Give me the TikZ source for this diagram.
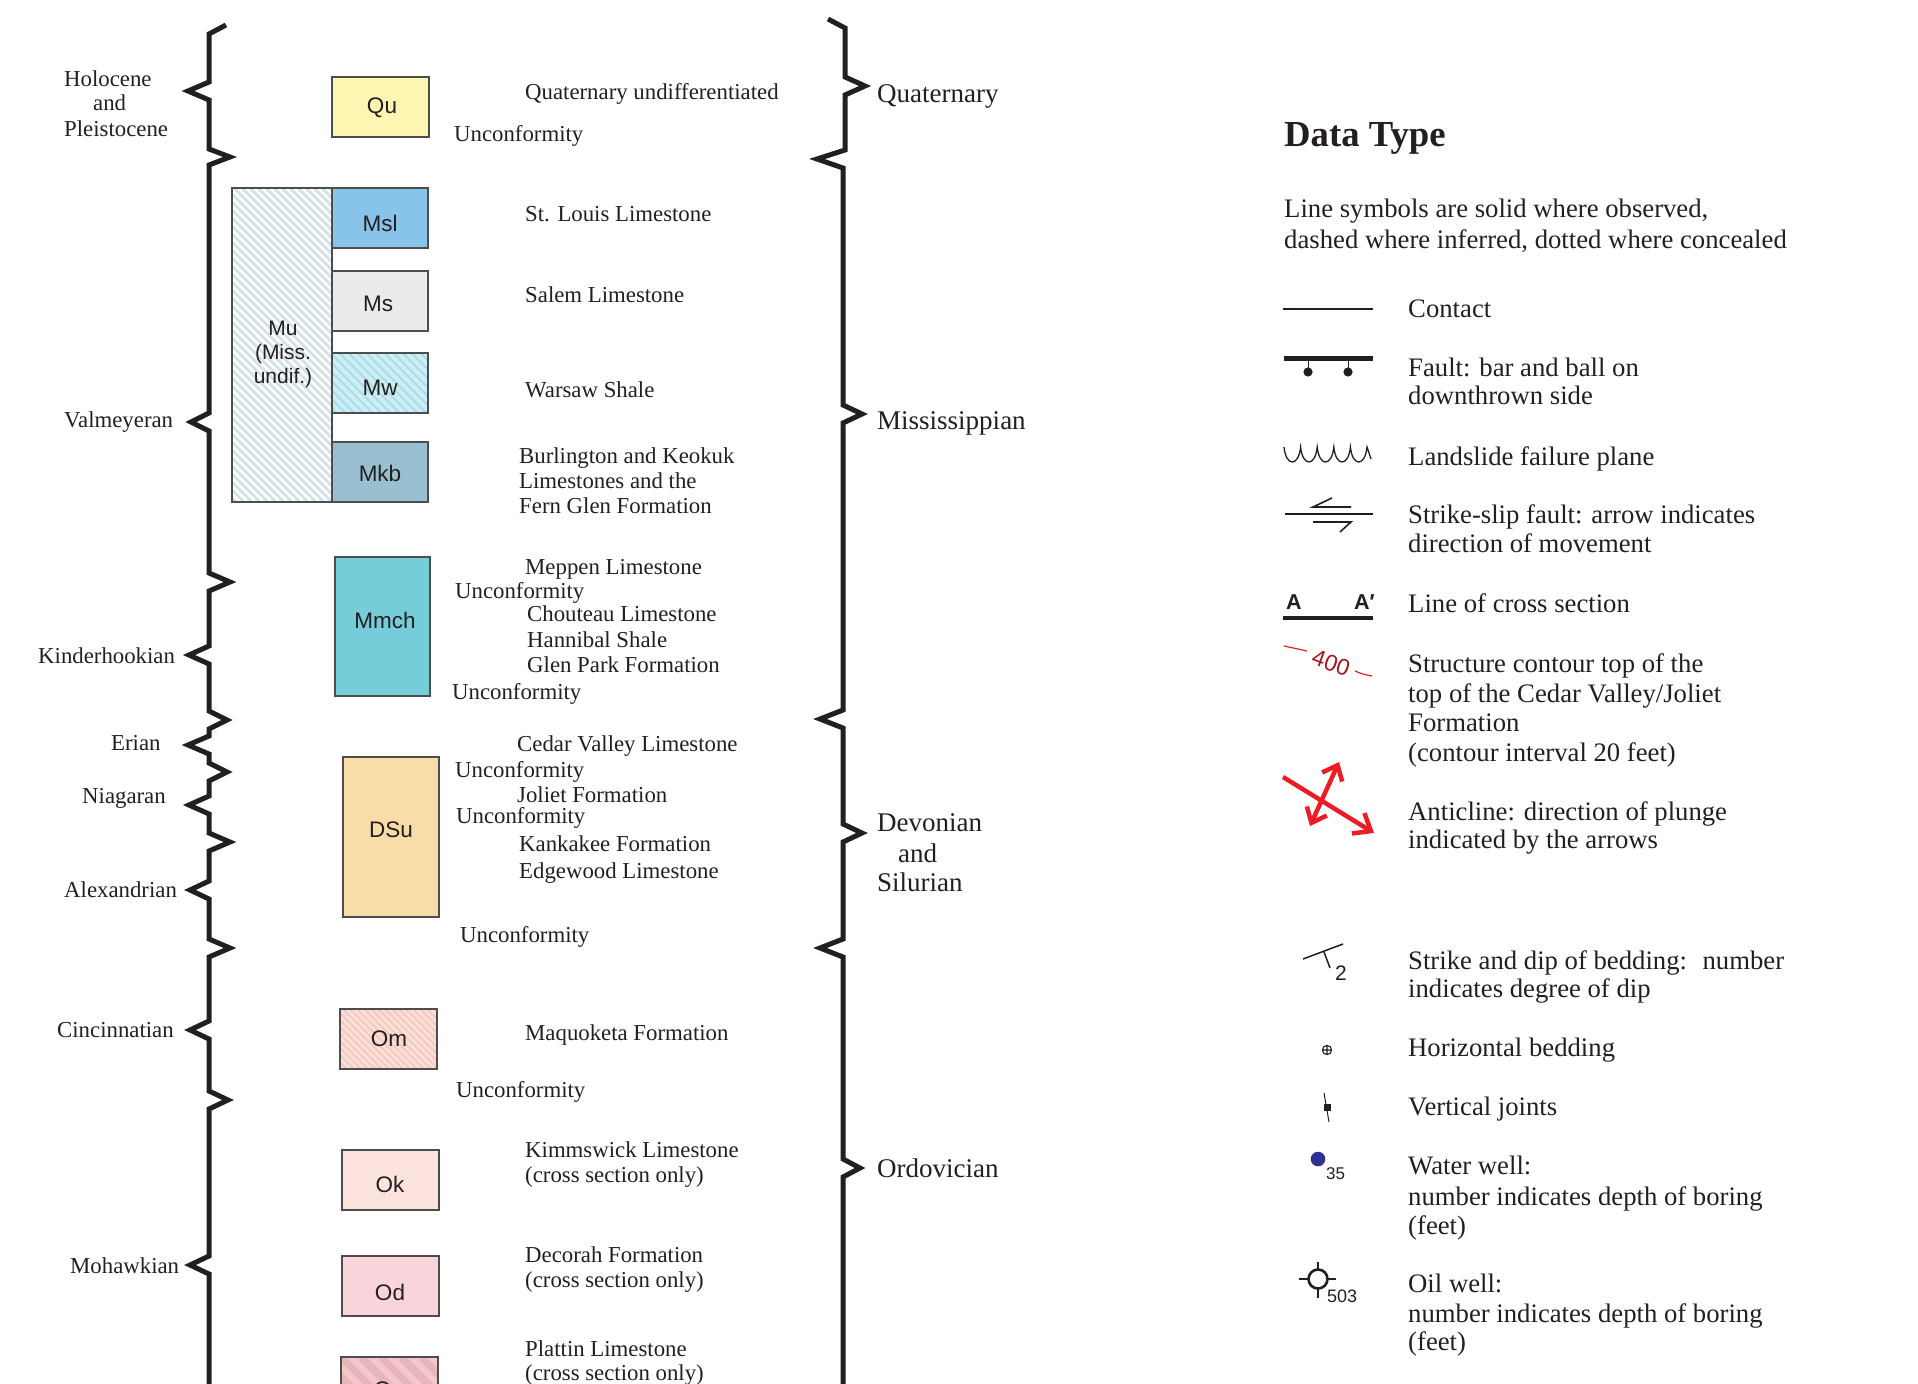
\documentclass[tikz,border=0pt]{standalone}
\usepackage{fontspec}
\setmainfont{Liberation Serif}
\newfontfamily\sansf{Liberation Sans}
\usetikzlibrary{arrows.meta}
\definecolor{ink}{HTML}{231F20}
\definecolor{boxline}{HTML}{4D4D4D}
\definecolor{cqu}{HTML}{FDF6B2}
\definecolor{cmsl}{HTML}{88C3E9}
\definecolor{cms}{HTML}{EBEBEB}
\definecolor{cmwbg}{HTML}{A9DDE9}
\definecolor{cmwst}{HTML}{CFEEF4}
\definecolor{cmkb}{HTML}{99C0D1}
\definecolor{cmubg}{HTML}{D3E1E8}
\definecolor{cmmch}{HTML}{74CDD9}
\definecolor{cdsu}{HTML}{F8DDA8}
\definecolor{combg}{HTML}{FBE0D8}
\definecolor{comst}{HTML}{F4CAC1}
\definecolor{cok}{HTML}{FDE3DE}
\definecolor{cod}{HTML}{F9D4DA}
\definecolor{copbg}{HTML}{F4C9CE}
\definecolor{copst}{HTML}{E8B5BC}
\definecolor{sred}{HTML}{ED1C24}
\definecolor{dred}{HTML}{A3161C}
\definecolor{wblue}{HTML}{2E3192}
\newcommand{\stripefill}[7]{%
  \begin{scope}
    \clip (#1,#2) rectangle (#3,#4);
    \pgfmathtruncatemacro{\nst}{((#3-#1)+(#4-#2))/#6+1}
    \foreach \k in {0,...,\nst}{
      \draw[#5, line width=#7] ({#1-(#4-#2)+\k*#6},#2) -- ++({#4-#2},{#4-#2});
    }
  \end{scope}}
\tikzset{
  lt/.style={anchor=base west, inner sep=0, text=ink, font=\fontsize{22.8}{26}\selectfont},
  pl/.style={anchor=base west, inner sep=0, text=ink, font=\fontsize{27}{30}\selectfont},
  lg/.style={anchor=base west, inner sep=0, text=ink, font=\fontsize{26.7}{30}\selectfont},
  unitbox/.style={draw=boxline, line width=1.3, inner sep=0, outer sep=0},
  blab/.style={inner sep=0, text=ink, font=\sansf\fontsize{22.5}{24}\selectfont},
  brace/.style={draw=ink, line width=5, line join=miter, miter limit=10},
  sym/.style={draw=ink, line width=1.3},
}
\begin{document}
\begin{tikzpicture}[x=1pt,y=-1pt]
\useasboundingbox (0,0) rectangle (1918,1383);
\clip (0,0) rectangle (1918,1383);

% ---------- left brace (epochs) ----------
\draw[brace] (226,25) -- (209,34) -- (209,82) -- (188,91) -- (209,100) -- (209,149) -- (230,157) -- (209,165)
  -- (209,413) -- (191,422) -- (209,431) -- (209,573) -- (230,582) -- (209,591) -- (209,646) -- (189,655) -- (209,664)
  -- (209,711) -- (227,720) -- (209,729) -- (209,736) -- (188,745) -- (209,754) -- (209,763) -- (227,772) -- (209,781)
  -- (209,796) -- (189,805) -- (209,814) -- (209,833) -- (230,842) -- (209,851) -- (209,881) -- (190,890) -- (209,899)
  -- (209,939) -- (230,948) -- (209,957) -- (209,1021) -- (190,1030) -- (209,1039) -- (209,1091) -- (228,1100) -- (209,1109)
  -- (209,1256) -- (190,1265) -- (209,1274) -- (209,1395);

% ---------- right brace (periods) ----------
\draw[brace] (828,19) -- (845,28) -- (845,77) -- (865,86) -- (845,95) -- (845,150) -- (817,159) -- (843,168)
  -- (843,405) -- (862,414) -- (843,423) -- (843,710) -- (820,719) -- (843,728) -- (843,824) -- (862,833) -- (843,842)
  -- (843,939) -- (820,948) -- (843,957) -- (843,1159) -- (860,1168) -- (843,1177) -- (843,1395);

% ---------- epoch labels ----------
\node[lt] (hol) at (64,87) {Holocene};
\node[lt] (holand) at (93,111) {and};
\node[lt] (ple) at (64,137) {Pleistocene};
\node[lt] (val) at (64,427) {Valmeyeran};
\node[lt] (kin) at (38,663) {Kinderhookian};
\node[lt] (eri) at (111,750) {Erian};
\node[lt] (nia) at (82,803) {Niagaran};
\node[lt] (ale) at (64,897) {Alexandrian};
\node[lt] (cin) at (57,1037) {Cincinnatian};
\node[lt] (moh) at (70,1273) {Mohawkian};

% ---------- period labels ----------
\node[pl] (pq) at (877,103) {Quaternary};
\node[pl] (pm) at (877,429) {Mississippian};
\node[pl] (pd) at (877,831) {Devonian};
\node[pl] (pand) at (898,862) {and};
\node[pl] (ps) at (877,891) {Silurian};
\node[pl] (po) at (877,1177) {Ordovician};

% ---------- unit boxes ----------
\node[unitbox, fill=cqu, minimum width=97, minimum height=60] (Qu) at (380.5,107) {};
\node[unitbox, fill=cmubg, minimum width=100, minimum height=314] (Mu) at (282,345) {};
\stripefill{232}{188}{332}{502}{white}{8}{2.6}
\draw[boxline, line width=1.3] (Mu.north west) rectangle (Mu.south east);
\node[unitbox, fill=cmsl, minimum width=96, minimum height=60] (Msl) at (380,218) {};
\node[unitbox, fill=cms, minimum width=96, minimum height=60] (Ms) at (380,301) {};
\node[unitbox, fill=cmwbg, minimum width=96, minimum height=60] (Mw) at (380,383) {};
\stripefill{332}{353}{428}{413}{cmwst}{9}{4}
\draw[boxline, line width=1.3] (Mw.north west) rectangle (Mw.south east);
\node[unitbox, fill=cmkb, minimum width=96, minimum height=60] (Mkb) at (380,472) {};
\node[unitbox, fill=cmmch, minimum width=95, minimum height=139] (Mmch) at (382.5,626.5) {};
\node[unitbox, fill=cdsu, minimum width=96, minimum height=160] (DSu) at (391,837) {};
\node[unitbox, fill=combg, minimum width=97, minimum height=60] (Om) at (388.5,1039) {};
\stripefill{340}{1009}{437}{1069}{comst}{7}{2}
\draw[boxline, line width=1.3] (Om.north west) rectangle (Om.south east);
\node[unitbox, fill=cok, minimum width=97, minimum height=60] (Ok) at (390.5,1180) {};
\node[unitbox, fill=cod, minimum width=97, minimum height=60] (Od) at (390.5,1286) {};
\node[unitbox, fill=copbg, minimum width=97, minimum height=60] (Op) at (389.5,1387) {};
\stripefill{341}{1357}{438}{1417}{copst}{20}{8}
\draw[boxline, line width=1.3] (Op.north west) rectangle (Op.south east);

% ---------- unit labels ----------
\node[blab] (lQu) at (382,108) {Qu};
\node[blab, align=center, font=\sansf\fontsize{21}{24}\selectfont] (lMu) at (283,354) {Mu\\(Miss.\\undif.)};
\node[blab] (lMsl) at (380,223) {Msl};
\node[blab] (lMs) at (378,304) {Ms};
\node[blab] (lMw) at (380,388) {Mw};
\node[blab] (lMkb) at (380,473) {Mkb};
\node[blab] (lMmch) at (385,620) {Mmch};
\node[blab] (lDSu) at (391,830) {DSu};
\node[blab] (lOm) at (389,1039) {Om};
\node[blab] (lOk) at (390,1184) {Ok};
\node[blab] (lOd) at (390,1292) {Od};
\node[blab] (lOp) at (389,1392) {Op};

% ---------- unit descriptions ----------
\node[lt] (d1) at (525,100) {Quaternary undifferentiated};
\node[lt] (u1) at (454,142) {Unconformity};
\node[lt] (d2) at (525,222) {St. Louis Limestone};
\node[lt] (d3) at (525,302) {Salem Limestone};
\node[lt] (d4) at (525,397) {Warsaw Shale};
\node[lt] (d5a) at (519,463) {Burlington and Keokuk};
\node[lt] (d5b) at (519,488) {Limestones and the};
\node[lt] (d5c) at (519,513) {Fern Glen Formation};
\node[lt] (d6) at (525,574) {Meppen Limestone};
\node[lt] (u2) at (455,598) {Unconformity};
\node[lt] (d7) at (527,621) {Chouteau Limestone};
\node[lt] (d8) at (527,647) {Hannibal Shale};
\node[lt] (d9) at (527,672) {Glen Park Formation};
\node[lt] (u3) at (452,699) {Unconformity};
\node[lt] (d10) at (517,751) {Cedar Valley Limestone};
\node[lt] (u4) at (455,777) {Unconformity};
\node[lt] (d11) at (517,802) {Joliet Formation};
\node[lt] (u5) at (456,823) {Unconformity};
\node[lt] (d12) at (519,851) {Kankakee Formation};
\node[lt] (d13) at (519,878) {Edgewood Limestone};
\node[lt] (u6) at (460,942) {Unconformity};
\node[lt] (d14) at (525,1040) {Maquoketa Formation};
\node[lt] (u7) at (456,1097) {Unconformity};
\node[lt] (d15a) at (525,1157) {Kimmswick Limestone};
\node[lt] (d15b) at (525,1182) {(cross section only)};
\node[lt] (d16a) at (525,1262) {Decorah Formation};
\node[lt] (d16b) at (525,1287) {(cross section only)};
\node[lt] (d17a) at (525,1356) {Plattin Limestone};
\node[lt] (d17b) at (525,1380) {(cross section only)};

% ---------- legend ----------
\node[lg, font=\bfseries\fontsize{36.7}{40}\selectfont] (dt) at (1284,147) {Data Type};
\node[lg] (g0a) at (1284,218) {Line symbols are solid where observed,};
\node[lg] (g0b) at (1284,248) {dashed where inferred, dotted where concealed};

% contact
\coordinate (c1) at (1283,309); \coordinate (c2) at (1373,309);
\draw[sym, line width=1.2] (c1) -- (c2);
\node[lg] (g1) at (1408,317) {Contact};

% fault
\coordinate (f1) at (1284,358); \coordinate (f2) at (1373,358);
\draw[draw=ink, line width=5] (f1) -- (f2);
\draw[sym, line width=1] (1308,358) -- (1308,372) (1348,358) -- (1348,372);
\fill[ink] (1308,372) circle (4.6) (1348,372) circle (4.6);
\node[lg] (g2a) at (1408,376) {Fault: bar and ball on};
\node[lg] (g2b) at (1408,404) {downthrown side};

% landslide
\draw[sym, line width=1.3] (1284,447)
  \foreach \i in {0,...,4}{ .. controls ({1284+\i*16.6+2},467) and ({1284+\i*16.6+14.6},467) .. ({1284+(\i+1)*16.6},447) }
  -- (1371,459);
\node[lg] (g3) at (1408,465) {Landslide failure plane};

% strike-slip
\draw[sym, line width=1.8] (1285,514) -- (1373,514);
\draw[sym, line width=1.6] (1351,507) -- (1313,507) -- (1332,498);
\draw[sym, line width=1.6] (1313,522) -- (1351,522) -- (1340,532);
\node[lg] (g4a) at (1408,523) {Strike-slip fault: arrow indicates};
\node[lg] (g4b) at (1408,552) {direction of movement};

% cross section
\node[anchor=base west, inner sep=0, text=ink, font=\sansf\bfseries\fontsize{21.5}{24}\selectfont] (sa) at (1286,609) {A};
\node[anchor=base west, inner sep=0, text=ink, font=\sansf\bfseries\fontsize{21.5}{24}\selectfont] (sb) at (1354,609) {A′};
\draw[draw=ink, line width=4] (1283,618) -- (1373,618);
\node[lg] (g5) at (1408,612) {Line of cross section};

% structure contour
\draw[sred, line width=1.2] (1284,646) -- (1307,651);
\draw[sred, line width=1.2] (1355,671) .. controls (1362,674) .. (1372,676);
\node[inner sep=0, rotate=-20, text=dred, font=\sansf\fontsize{23}{24}\selectfont] (c400) at (1331,663) {400};
\node[lg] (g6a) at (1408,672) {Structure contour top of the};
\node[lg] (g6b) at (1408,702) {top of the Cedar Valley/Joliet};
\node[lg] (g6c) at (1408,731) {Formation};
\node[lg] (g6d) at (1408,761) {(contour interval 20 feet)};

% anticline
\draw[sred, line width=4.5, -{Straight Barb[length=15, width=24]}] (1283,777) -- (1374,833);
\draw[sred, line width=4.5, {Straight Barb[length=13, width=22]}-{Straight Barb[length=13, width=22]}] (1310,826) -- (1339,762);
\node[lg] (g7a) at (1408,820) {Anticline: direction of plunge};
\node[lg] (g7b) at (1408,848) {indicated by the arrows};

% strike and dip
\draw[sym, line width=1.5] (1303,959) -- (1343,944);
\draw[sym, line width=1.5] (1324,952) -- (1330,968);
\node[anchor=base west, inner sep=0, text=ink, font=\sansf\fontsize{21}{24}\selectfont] (n2) at (1335,980) {2};
\node[lg] (g8a) at (1408,969) {Strike and dip of bedding:~ number};
\node[lg] (g8b) at (1408,997) {indicates degree of dip};

% horizontal bedding
\draw[sym, line width=1.1] (1327,1050) circle (4.6) (1322.4,1050) -- (1331.6,1050) (1327,1045.4) -- (1327,1054.6);
\node[lg] (g9) at (1408,1056) {Horizontal bedding};

% vertical joints
\draw[sym, line width=1] (1324,1093) -- (1329,1122);
\fill[ink] (1323.5,1103.5) rectangle (1330.5,1110.5);
\node[lg] (g10) at (1408,1115) {Vertical joints};

% water well
\fill[wblue] (1318,1159) circle (7.3);
\node[anchor=base west, inner sep=0, text=ink, font=\sansf\fontsize{17}{20}\selectfont] (n35) at (1326,1179) {35};
\node[lg] (g11a) at (1408,1174) {Water well:};
\node[lg] (g11b) at (1408,1205) {number indicates depth of boring};
\node[lg] (g11c) at (1408,1234) {(feet)};

% oil well
\draw[sym, line width=2.6] (1318,1279) circle (9.5);
\draw[sym, line width=2.2] (1299,1279) -- (1308.5,1279) (1327.5,1279) -- (1336,1279) (1318,1262) -- (1318,1269.5) (1318,1288.5) -- (1318,1298);
\node[anchor=base west, inner sep=0, text=ink, font=\sansf\fontsize{18}{20}\selectfont] (n503) at (1327,1302) {503};
\node[lg] (g12a) at (1408,1292) {Oil well:};
\node[lg] (g12b) at (1408,1322) {number indicates depth of boring};
\node[lg] (g12c) at (1408,1350) {(feet)};
\end{tikzpicture}
\end{document}
